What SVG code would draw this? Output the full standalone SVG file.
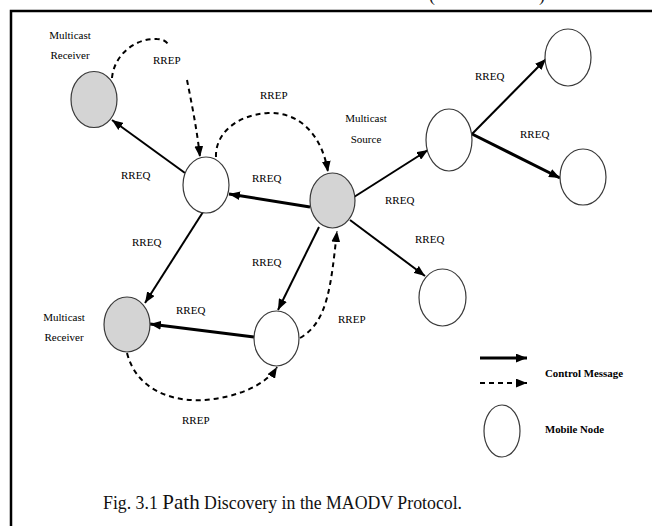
<svg xmlns="http://www.w3.org/2000/svg" width="652" height="526" viewBox="0 0 652 526">
  <style>
    .node{stroke:#3a3a3a;stroke-width:1.2}
    .plain{fill:#fff}
    .member{fill:#d4d4d4}
    .lbl{font-family:"Liberation Serif","Times New Roman",serif;font-size:11px;fill:#000}
    .ctl{fill:none;stroke:#000;stroke-width:2;marker-end:url(#ah)}
    .thick{stroke-width:3}
    .rrep{fill:none;stroke:#000;stroke-width:2;stroke-dasharray:5 4;marker-end:url(#ah)}
    .rrep-open{fill:none;stroke:#000;stroke-width:2;stroke-dasharray:5 4}
    .legend{font-family:"Liberation Serif","Times New Roman",serif;font-size:10.5px;font-weight:bold;fill:#000}
    .caption{font-family:"Liberation Serif","Times New Roman",serif;font-size:17.8px;fill:#111}
  </style>
  <defs>
    <marker id="ah" viewBox="0 0 10 8" refX="10" refY="4" markerWidth="11" markerHeight="9" markerUnits="userSpaceOnUse" orient="auto">
      <path d="M0,0 L10,4 L0,8 z" fill="#000"/>
    </marker>
  </defs>

  <rect x="0" y="0" width="652" height="526" fill="#fff"/>

  <!-- clipped heading fragments along the top edge -->
  <text x="429" y="0.5" class="caption" font-size="16">(</text>
  <text x="539" y="0.5" class="caption" font-size="16">)</text>

  <!-- frame -->
  <path d="M11,526 V11 H652" fill="none" stroke="#000" stroke-width="2.5"/>

  <!-- connectors -->
  <g id="connectors">
    <!-- RREQ (control message) -->
    <line class="ctl" x1="185" y1="173" x2="112" y2="120"/>
    <line class="ctl thick" x1="310" y1="207" x2="229" y2="194"/>
    <line class="ctl" x1="354" y1="197" x2="428" y2="150"/>
    <line class="ctl" x1="472" y1="134" x2="546" y2="59"/>
    <line class="ctl thick" x1="472" y1="134" x2="560" y2="178"/>
    <line class="ctl" x1="350" y1="220" x2="425" y2="276"/>
    <line class="ctl" x1="203" y1="212" x2="145" y2="303"/>
    <line class="ctl" x1="319" y1="227" x2="278" y2="310"/>
    <line class="ctl thick" x1="254" y1="337" x2="150" y2="324"/>

    <!-- RREP (route replies) -->
    <path class="rrep-open" d="M112,78 C114,55 135,38 157,39 C162,39 166,41 168,44"/>
    <path class="rrep" d="M187,80 C192,105 197,130 200,157"/>
    <path class="rrep" d="M216,157 C215,135 235,115 268,113 C300,112 322,135 328,172"/>
    <path class="rrep" d="M300,338 C328,322 331,285 337,231"/>
    <path class="rrep" d="M127,353 C137,392 175,402 205,400 C238,397 266,385 277,367"/>
  </g>

  <!-- nodes -->
  <g id="receiver-top"><ellipse class="node member" cx="94" cy="99.5" rx="23" ry="28"/></g>
  <g id="relay-b"><ellipse class="node plain" cx="206" cy="185" rx="23" ry="28"/></g>
  <g id="source"><ellipse class="node member" cx="332.5" cy="200.5" rx="22.5" ry="27.5"/></g>
  <g id="relay-c"><ellipse class="node plain" cx="449" cy="140" rx="23" ry="31"/></g>
  <g id="node-d"><ellipse class="node plain" cx="568" cy="57.5" rx="23" ry="28.5"/></g>
  <g id="node-e"><ellipse class="node plain" cx="583" cy="177" rx="23" ry="28"/></g>
  <g id="node-f"><ellipse class="node plain" cx="442.5" cy="297.5" rx="23.5" ry="28.5"/></g>
  <g id="receiver-bottom"><ellipse class="node member" cx="127" cy="324.5" rx="23" ry="27.5"/></g>
  <g id="relay-h"><ellipse class="node plain" cx="276.5" cy="338.5" rx="22.5" ry="27.5"/></g>

  <!-- labels -->
  <g id="labels">
    <text class="lbl" x="70" y="39" text-anchor="middle">Multicast</text>
    <text class="lbl" x="70" y="59" text-anchor="middle">Receiver</text>
    <text class="lbl" x="153" y="64">RREP</text>
    <text class="lbl" x="121" y="179">RREQ</text>
    <text class="lbl" x="260" y="99">RREP</text>
    <text class="lbl" x="366" y="122" text-anchor="middle">Multicast</text>
    <text class="lbl" x="366" y="143" text-anchor="middle">Source</text>
    <text class="lbl" x="252" y="182">RREQ</text>
    <text class="lbl" x="385" y="204">RREQ</text>
    <text class="lbl" x="475" y="80">RREQ</text>
    <text class="lbl" x="520" y="138">RREQ</text>
    <text class="lbl" x="415" y="243">RREQ</text>
    <text class="lbl" x="132" y="246">RREQ</text>
    <text class="lbl" x="252" y="266">RREQ</text>
    <text class="lbl" x="176" y="314">RREQ</text>
    <text class="lbl" x="338" y="323">RREP</text>
    <text class="lbl" x="64" y="321" text-anchor="middle">Multicast</text>
    <text class="lbl" x="64" y="341" text-anchor="middle">Receiver</text>
    <text class="lbl" x="182" y="424">RREP</text>
  </g>

  <!-- legend -->
  <g id="legend">
    <line class="ctl thick" x1="480" y1="358" x2="527" y2="358"/>
    <line class="rrep" x1="480" y1="383" x2="527" y2="383"/>
    <text class="legend" x="545" y="377" textLength="78" lengthAdjust="spacingAndGlyphs">Control Message</text>
    <ellipse class="node plain" cx="502" cy="431" rx="18" ry="26"/>
    <text class="legend" x="545" y="433" textLength="59" lengthAdjust="spacingAndGlyphs">Mobile Node</text>
  </g>

  <!-- caption -->
  <text class="caption" x="103" y="509">Fig. 3.1 <tspan font-size="21">Path</tspan> Discovery in the MAODV Protocol.</text>
</svg>
